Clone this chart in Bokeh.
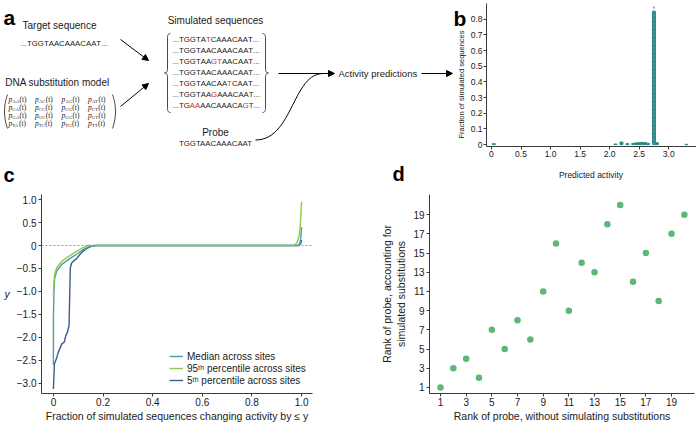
import numpy as np
from bokeh.plotting import figure
from bokeh.models import (Range1d, Arrow, NormalHead, FixedTicker, Legend,
                          LegendItem, Span, CustomJSTickFormatter)
from bokeh.layouts import column, row
from bokeh.embed import file_html
from bokeh.resources import INLINE
from bokeh.core.properties import value

FONT = "Liberation Sans"
SERIF = "Liberation Serif"
INK = "#1a1a1a"
AXIS = "#3a3a3a"
RED = "#cc2f2f"

# ---------------- data ----------------
# panel a (diagram texts)
target_seq = "TGGTAACAAACAAT"
simulated_seqs = ["TGGTATCAAACAAT", "TGGTAACAAACAAT", "TGGTAAGTAACAAT", "TGGTAACAAACAAT",
                  "TGGTAACAATCAAT", "TGGTAAGAAACAAT", "TGAAAACAAACAGT"]
probe_seq = "TGGTAACAAACAAT"
bases = ["A", "C", "G", "T"]

# panel b: histogram of predicted activity
activity_bins = [0.04, 2.1, 2.2, 2.3, 2.4, 2.45, 2.5, 2.55, 2.6, 2.65, 2.75, 2.8, 3.3]
activity_fraction = [0.006, 0.004, 0.016, 0.006, 0.008, 0.011, 0.012, 0.014, 0.012, 0.008, 0.85, 0.012, 0.002]
peak_error_top = [0.885]
b_xticks = [0, 0.5, 1.0, 1.5, 2.0, 2.5, 3.0]
b_yticks = [0, 0.1, 0.2, 0.3, 0.4, 0.5, 0.6, 0.7, 0.8]

# panel c: curves
median_x = [0, 0, 0.002, 0.005, 0.013, 0.034, 0.067, 0.094, 0.12, 0.141, 0.16, 0.985, 0.993, 0.997, 1.0]
median_y = [-2.6, -1.6, -1.0, -0.72, -0.56, -0.41, -0.28, -0.19, -0.09, -0.03, 0.0, 0.0, 0.04, 0.18, 0.4]
p95_x = [0, 0.002, 0.005, 0.013, 0.034, 0.06, 0.087, 0.114, 0.135, 0.97, 0.982, 0.99, 0.995, 0.998, 1.0]
p95_y = [-1.1, -0.8, -0.63, -0.49, -0.34, -0.24, -0.15, -0.06, 0.0, 0.0, 0.066, 0.21, 0.45, 0.8, 0.95]
p5_x = [0, 0.004, 0.013, 0.02, 0.034, 0.044, 0.05, 0.057, 0.063, 0.066, 0.068, 0.074, 0.094,
        0.114, 0.135, 0.155, 0.175, 0.99, 0.997, 1.0]
p5_y = [-3.12, -2.58, -2.45, -2.32, -2.14, -2.10, -1.96, -1.88, -1.74, -1.0, -0.49, -0.375, -0.28,
        -0.15, -0.06, -0.015, 0.0, 0.0, 0.05, 0.12]
c_xticks = [0, 0.2, 0.4, 0.6, 0.8, 1.0]
c_yticks = [-3.0, -2.5, -2.0, -1.5, -1.0, -0.5, 0, 0.5, 1.0]

# panel d: ranks
rank_without = [1, 2, 3, 4, 5, 6, 7, 8, 9, 10, 11, 12, 13, 14, 15, 16, 17, 18, 19, 20]
rank_with = [1, 3, 4, 2, 7, 5, 8, 6, 11, 16, 9, 14, 13, 18, 20, 12, 15, 10, 17, 19]
d_ticks = [1, 3, 5, 7, 9, 11, 13, 15, 17, 19]

TEAL_LINE = "#4a9fa5"
GREEN_LINE = "#90c84a"
DARK_LINE = "#3d5b8f"
BAR = "#23898a"
DOT = "#5cb874"

FMT = CustomJSTickFormatter(code="return tick == 0 ? '0' : tick.toFixed(1).replace('-', '\u2212');")


def style_axes(p, tick_fs, label_fs):
    for ax in p.axis:
        ax.axis_line_color = AXIS
        ax.major_tick_line_color = AXIS
        ax.minor_tick_line_color = None
        ax.major_tick_in = 0
        ax.major_tick_out = 3
        ax.major_label_text_font = FONT
        ax.major_label_text_font_size = f"{tick_fs}px"
        ax.major_label_text_color = INK
        ax.axis_label_text_font = FONT
        ax.axis_label_text_font_size = f"{label_fs}px"
        ax.axis_label_text_font_style = "normal"
        ax.axis_label_text_color = INK
        ax.major_label_standoff = 2
        ax.axis_label_standoff = 3
    p.grid.visible = False


def txt(p, x, y, s, size, color=INK, align="center", baseline="middle", font=FONT, style="normal", angle=0.0):
    p.text(x=[x], y=[y], text=[s], text_font=value(font), text_font_size=value(f"{size}px"),
           text_color=color, text_align=align, text_baseline=baseline, text_font_style=style,
           angle=angle)


CW = {"T": 0.611, "G": 0.778, "A": 0.667, "C": 0.722, ".": 0.278}


def seq_line(p, x0, y, s, ref, fs):
    full = "..." + s + "..."
    rfull = "..." + ref + "..."
    xs, chars, cols = [], [], []
    x = x0
    for ch, rc in zip(full, rfull):
        xs.append(x)
        chars.append(ch)
        cols.append(RED if ch != rc else INK)
        x += CW[ch] * fs
    p.text(x=xs, y=[y] * len(xs), text=chars, text_color=cols, text_font=value(FONT),
           text_font_size=value(f"{fs}px"), text_align="left", text_baseline="middle")


def cubic(p0, p1, p2, p3, n=30):
    t = np.linspace(0, 1, n)[:, None]
    P = ((1 - t) ** 3) * np.array(p0) + 3 * ((1 - t) ** 2) * t * np.array(p1) + \
        3 * (1 - t) * t ** 2 * np.array(p2) + t ** 3 * np.array(p3)
    return P[:, 0], P[:, 1]


def quad(p0, p1, p2, n=12):
    t = np.linspace(0, 1, n)[:, None]
    P = ((1 - t) ** 2) * np.array(p0) + 2 * (1 - t) * t * np.array(p1) + t ** 2 * np.array(p2)
    return list(P[:, 0]), list(P[:, 1])


def brace(p, xc, y0, y1, d):
    ym = (y0 + y1) / 2
    xs, ys = [], []
    for seg in [quad((xc + 3 * d, y0), (xc, y0), (xc, y0 + 4)),
                ([xc, xc], [y0 + 4, ym - 4]),
                quad((xc, ym - 4), (xc, ym), (xc - 3 * d, ym)),
                quad((xc - 3 * d, ym), (xc, ym), (xc, ym + 4)),
                ([xc, xc], [ym + 4, y1 - 4]),
                quad((xc, y1 - 4), (xc, y1), (xc + 3 * d, y1))]:
        xs += list(seg[0])
        ys += list(seg[1])
    p.line(xs, ys, line_color=INK, line_width=0.8)


def blank(width, height, x0, x1, y0, y1, **borders):
    p = figure(width=width, height=height, x_range=Range1d(x0, x1), y_range=Range1d(y1, y0),
               x_axis_type=None, y_axis_type=None, toolbar_location=None,
               output_backend="svg", outline_line_color=None, **borders)
    p.grid.visible = False
    return p


# ---------------- geometry (page pixels) ----------------
W = 696
H1 = 163          # top row
HS = 22           # strip with panel letters c/d and b's x title
H2 = 424 - H1 - HS
XA = 467          # width of panel a canvas
BT, BB = 3, 17    # top-row frame borders (shared by a and b)

# ---------------- panel a (diagram) ----------------
pa = blank(XA, H1, 0, XA, BT, H1 - BB, min_border_left=0, min_border_right=0,
           min_border_top=BT, min_border_bottom=BB)

txt(pa, 3, 17, "a", 21, color="black", align="left", baseline="alphabetic", style="bold")
txt(pa, 453, 18, "b", 21, color="black", align="left", baseline="alphabetic", style="bold")
# y-axis title of panel b, left of b's tick labels
txt(pa, 461, 84, "Fraction of simulated sequences", 7.5, angle=np.pi / 2)

txt(pa, 59, 25, "Target sequence", 10)
seq_line(pa, 20, 43, target_seq, target_seq, 7.8)
txt(pa, 57, 82, "DNA substitution model", 10)

# substitution matrix
xs_p, ys_p, xs_s, ys_s, ts_s, xs_t, ys_t = [], [], [], [], [], [], []
SERIF_W = {"A": 0.722, "C": 0.667, "G": 0.722, "T": 0.611}
for i, b1 in enumerate(bases):
    for j, b2 in enumerate(bases):
        x0 = 8 + 26.5 * j
        y0 = 99 + 8 * i
        xs_p.append(x0); ys_p.append(y0)
        xs_s.append(x0 + 0.5 * 7.5); ys_s.append(y0 + 1.6); ts_s.append(b1 + b2)
        xs_t.append(x0 + 0.5 * 7.5 + (SERIF_W[b1] + SERIF_W[b2]) * 4.8 + 0.3); ys_t.append(y0)
pa.text(x=xs_p, y=ys_p, text=["p"] * 16, text_font=value(SERIF), text_font_size=value("7.5px"),
        text_font_style="italic", text_color=INK, text_baseline="middle", text_align="left")
pa.text(x=xs_s, y=ys_s, text=ts_s, text_font=value(SERIF), text_font_size=value("4.8px"),
        text_color=INK, text_baseline="middle", text_align="left")
pa.text(x=xs_t, y=ys_t, text=["(t)"] * 16, text_font=value(SERIF), text_font_size=value("7.5px"),
        text_color=INK, text_baseline="middle", text_align="left")
lx, ly = quad((7, 94), (1, 111), (7, 128))
pa.line(lx, ly, line_color=INK, line_width=0.8)
rx, ry = quad((112, 94), (118, 111), (112, 128))
pa.line(rx, ry, line_color=INK, line_width=0.8)

head = dict(size=6, fill_color="black", line_color="black")
pa.add_layout(Arrow(end=NormalHead(**head), x_start=120, y_start=39, x_end=148, y_end=60,
                    line_width=1, line_color="black"))
pa.add_layout(Arrow(end=NormalHead(**head), x_start=120, y_start=106, x_end=148, y_end=83,
                    line_width=1, line_color="black"))

txt(pa, 215, 20, "Simulated sequences", 10)
for k, s in enumerate(simulated_seqs):
    seq_line(pa, 172, 39.3 + 10.95 * k, s, target_seq, 7.8)
brace(pa, 167, 33, 112, 1)
brace(pa, 265, 33, 112, -1)

txt(pa, 215, 132, "Probe", 10)
txt(pa, 215, 143, probe_seq, 7.8)

cx, cy = cubic((255, 139.5), (292, 139.5), (292, 74), (322, 73))
pa.line(cx, cy, line_color="black", line_width=1)
pa.add_layout(Arrow(end=NormalHead(**head), x_start=278, y_start=73, x_end=334, y_end=73,
                    line_width=1, line_color="black"))
txt(pa, 338, 73, "Activity predictions", 9.5, align="left")
pa.add_layout(Arrow(end=NormalHead(**head), x_start=421, y_start=73, x_end=452, y_end=73,
                    line_width=1, line_color="black"))

# ---------------- panel b ----------------
BL = 18
pb = figure(width=W - XA, height=H1, x_range=Range1d(-0.084, 3.47), y_range=Range1d(-0.012, 0.9),
            toolbar_location=None, output_backend="svg", min_border_left=BL, min_border_right=0,
            min_border_top=BT, min_border_bottom=BB, outline_line_color=None)
pb.vbar(x=activity_bins, top=activity_fraction, width=0.05, fill_color=BAR, line_color=BAR)
peak_x = [activity_bins[int(np.argmax(activity_fraction))]]
pb.segment(x0=peak_x, y0=[0], x1=peak_x, y1=peak_error_top, line_color="#7d8a96",
           line_dash="2 2", line_width=1.5)
pb.xaxis.ticker = FixedTicker(ticks=b_xticks)
pb.yaxis.ticker = FixedTicker(ticks=b_yticks)
pb.xaxis.formatter = FMT
pb.yaxis.formatter = FMT
style_axes(pb, 8.5, 8.5)
for ax in pb.axis:
    ax.major_label_standoff = 1

# ---------------- strip: panel letters c, d and b's x-axis title ----------------
Y_STRIP = H1 + HS / 2
ps = blank(W, HS, 0, W, H1, H1 + HS, min_border=0)
txt(ps, 3, Y_STRIP, "c", 20, color="black", align="left", style="bold")
txt(ps, 392, Y_STRIP - 1, "d", 20, color="black", align="left", style="bold")
txt(ps, (XA + BL + W) / 2, Y_STRIP, "Predicted activity", 8.5)

# ---------------- panel c ----------------
CT, CB = 9, 30
WC = 372
pc = figure(width=WC, height=H2, x_range=Range1d(-0.048, 1.044), y_range=Range1d(-3.22, 1.11),
            toolbar_location=None, output_backend="svg", min_border_left=41, min_border_right=WC - 312,
            min_border_top=CT, min_border_bottom=CB, outline_line_color=None)
pc.add_layout(Span(location=0, dimension="width", line_color="#9a9a9a", line_dash="2 2", line_width=1.2))
r5 = pc.line(p5_x, p5_y, line_color=DARK_LINE, line_width=1.4)
rm = pc.line(median_x, median_y, line_color=TEAL_LINE, line_width=1.4)
r95 = pc.line(p95_x, p95_y, line_color=GREEN_LINE, line_width=1.4)
pc.xaxis.ticker = FixedTicker(ticks=c_xticks)
pc.yaxis.ticker = FixedTicker(ticks=c_yticks)
pc.xaxis.formatter = FMT
pc.yaxis.formatter = FMT
pc.xaxis.axis_label = "Fraction of simulated sequences changing activity by \u2264 y"
pc.yaxis.axis_label = "y"
style_axes(pc, 10, 10.5)
pc.xaxis.axis_label_standoff = 1
pc.xaxis.major_label_standoff = 1
yax = pc.yaxis[0]
yax.axis_label_text_font_style = "italic"
yax.axis_label_standoff = 4
if "axis_label_orientation" in yax.properties():
    yax.axis_label_orientation = "horizontal"
legend = Legend(items=[LegendItem(label="Median across sites", renderers=[rm]),
                       LegendItem(label="95\u1d57\u02b0 percentile across sites", renderers=[r95]),
                       LegendItem(label="5\u1d57\u02b0 percentile across sites", renderers=[r5])],
                location=(128, 7), label_text_font=FONT, label_text_font_size="10px",
                label_text_color=INK, glyph_width=14, glyph_height=12, label_height=12,
                label_standoff=4, spacing=0, padding=0, margin=0, border_line_color=None,
                background_fill_alpha=0)
pc.add_layout(legend)

# ---------------- panel d ----------------
pd_ = figure(width=W - WC, height=H2, x_range=Range1d(0.143, 20.79), y_range=Range1d(0.37, 21.1),
             toolbar_location=None, output_backend="svg", min_border_left=429 - WC, min_border_right=2,
             min_border_top=CT, min_border_bottom=CB, outline_line_color=None)
pd_.scatter(rank_without, rank_with, size=6.5, fill_color=DOT, line_color=None)
pd_.xaxis.ticker = FixedTicker(ticks=d_ticks)
pd_.yaxis.ticker = FixedTicker(ticks=d_ticks)
pd_.xaxis.axis_label = "Rank of probe, without simulating substitutions"
pd_.yaxis.axis_label = "Rank of probe, accounting for\nsimulated substitutions"
style_axes(pd_, 10, 10.5)
pd_.xaxis.axis_label_standoff = 1
pd_.xaxis.major_label_standoff = 1

layout = column(row(pa, pb), ps, row(pc, pd_))
open("out.html", "w").write(file_html(layout, INLINE))
